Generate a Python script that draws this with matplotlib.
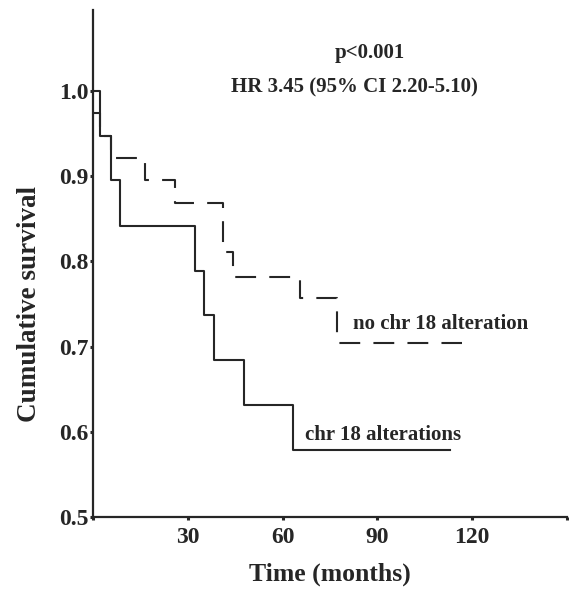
import matplotlib
matplotlib.use("Agg")
import matplotlib.pyplot as plt

# ---- data ----
alt_times = [0, 2.2, 5.7, 8.5, 32.3, 35.1, 38.3, 47.8, 63.3, 113.0]
alt_surv = [1.000, 0.947, 0.895, 0.842, 0.789, 0.737, 0.684, 0.632, 0.579, 0.579]

noalt_times = [0, 2.2, 5.7, 16.4, 25.9, 41.1, 44.3, 65.5, 77.2, 116.8]
noalt_surv = [0.974, 0.947, 0.921, 0.895, 0.868, 0.811, 0.782, 0.757, 0.704, 0.704]

x_ticks = [0, 30, 60, 90, 120, 150]
x_ticklabels = ["", "30", "60", "90", "120", ""]
y_ticks = [0.5, 0.6, 0.7, 0.8, 0.9, 1.0]
y_ticklabels = ["0.5", "0.6", "0.7", "0.8", "0.9", "1.0"]

label_alt = "chr 18 alterations"
label_noalt = "no chr 18 alteration"
p_text = "p<0.001"
hr_text = "HR 3.45 (95% CI 2.20-5.10)"

# ---- figure ----
plt.rcParams['font.family'] = ['Liberation Serif', 'DejaVu Serif']
plt.rcParams['font.weight'] = 'bold'
plt.rcParams['lines.scale_dashes'] = False

fig = plt.figure(figsize=(5.69, 5.89), dpi=100)
ax = fig.add_axes([93/569, 1-517/589, (567-93)/569, (517-10)/589])

col = '#262626'
ax.step(noalt_times, noalt_surv, where='post', color=col, lw=1.5,
        dashes=(15, 9.5))
ax.step(alt_times, alt_surv, where='post', color=col, lw=1.5)

ax.set_xlim(0, 150)
ax.set_ylim(0.5, 1.095)

ax.spines['top'].set_visible(False)
ax.spines['right'].set_visible(False)
for s in ('left', 'bottom'):
    ax.spines[s].set_linewidth(1.6)
    ax.spines[s].set_color(col)

ax.set_xticks(x_ticks)
ax.set_xticklabels(x_ticklabels, fontsize=17, fontweight='bold')
ax.set_yticks(y_ticks)
ax.set_yticklabels(y_ticklabels, fontsize=17, fontweight='bold')
ax.tick_params(axis='both', direction='out', length=2.5, width=2.2, colors=col)
ax.tick_params(axis='y', pad=1)
ax.tick_params(axis='x', pad=5)

ax.set_xlabel("Time (months)", fontsize=18.5, fontweight='bold', labelpad=10, color=col)
ax.set_ylabel("Cumulative survival", fontsize=19.5, fontweight='bold', color=col)
ylim = ax.get_ylim()
ax.yaxis.set_label_coords(-0.108, (0.75 - ylim[0]) / (ylim[1] - ylim[0]))

ax.text(87.5, 1.044, p_text, fontsize=15, fontweight='bold', ha='center', va='center', color=col)
ax.text(82.6, 1.004, hr_text, fontsize=15, fontweight='bold', ha='center', va='center', color=col)
ax.text(82.3, 0.727, label_noalt, fontsize=15, fontweight='bold', ha='left', va='center', color=col)
ax.text(67.0, 0.596, label_alt, fontsize=15, fontweight='bold', ha='left', va='center', color=col)

fig.savefig("out.png", dpi=100)
